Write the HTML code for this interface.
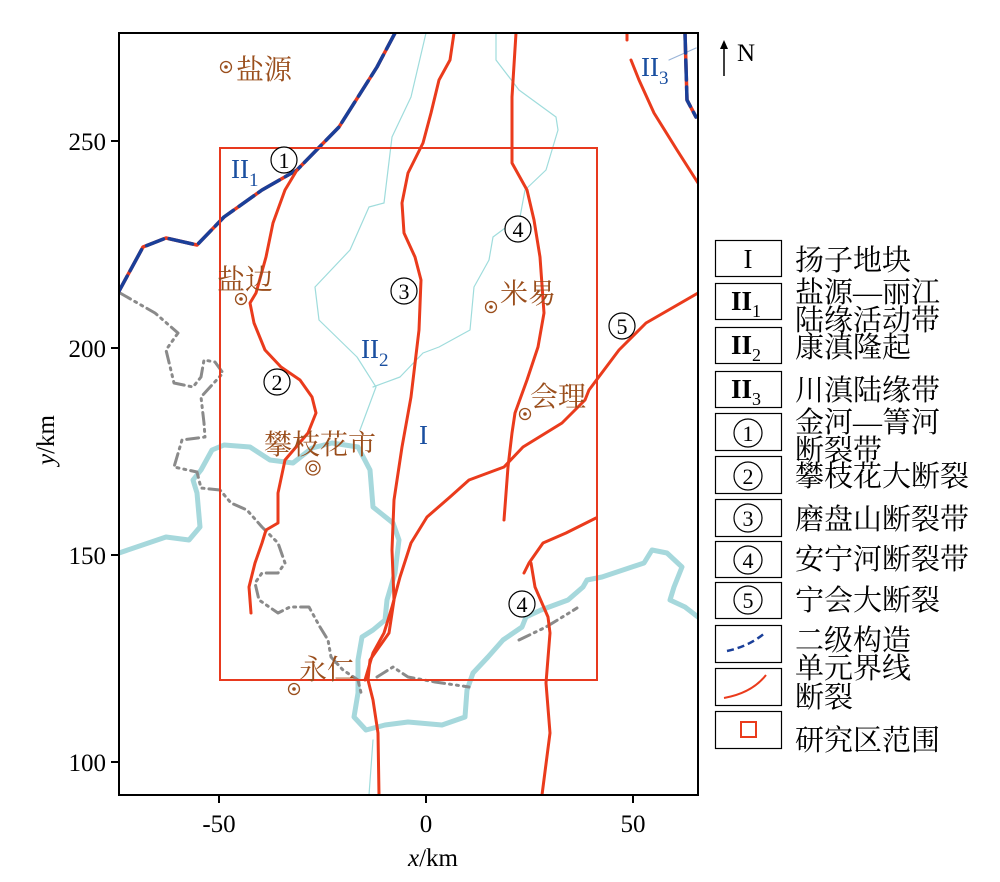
<!DOCTYPE html>
<html><head><meta charset="utf-8"><style>
body{margin:0;background:#fff}
svg{display:block}
text{font-family:"Liberation Serif","Noto Serif CJK SC",serif}
</style></head><body>
<svg width="1000" height="882" viewBox="0 0 1000 882" xmlns="http://www.w3.org/2000/svg">
<defs><clipPath id="c"><rect x="119" y="33" width="579" height="762"/></clipPath></defs>
<g clip-path="url(#c)" fill="none" stroke-linejoin="round" stroke-linecap="round">
<g stroke="#9fdcdc" stroke-width="1.2">
<polyline points="426,33 411,97 392,137 384,203 369,207 350,250 315,287 319,320 357,357 376,387 360,430"/>
<polyline points="496,33 496,60 519,90 556,117 558,130 546,170 525,190 520,217 493,237 489,260 474,287 470,330 439,347 423,353 400,377 373,387"/>
<polyline points="373,740 369,795"/>
<polyline points="669,60 696,48" stroke="#9ab4d8"/>
</g>
<polyline stroke="#a6d8dc" stroke-width="5" points="119,553 166,537 189,540 200,527 197,493 193,480 201,470 212,450 224,445 250,447 270,460 293,463 312,448 332,443 358,447 370,470 373,507 393,523 399,540 395,573 387,600 385,620 373,630 362,637 358,660 358,693 354,717 366,730 385,725 408,722 442,725 465,717 467,690 473,673 488,657 503,640 522,627 526,617 541,610 568,600 583,587 587,580 602,577 644,563 652,550 667,553 682,567 674,587 670,600 685,607 698,617"/>
<g stroke="#8a8a8a" stroke-width="3" stroke-dasharray="12,5,2,5,2,5">
<polyline points="120,293 155,313 178,333 166,350 174,383 193,387 201,377 204,360 215,362 223,373 201,397 204,423 205,437 182,440 174,467 197,472 201,488 220,490 231,503 247,510 262,527 278,543 285,563 278,573 262,573 255,583 259,600 278,613 290,607 309,607 320,627 328,640 331,657 343,670 358,680 362,697"/>
<polyline points="377,677 393,667 408,677 435,682 469,687"/>
<polyline points="519,640 546,627 569,613 577,608"/>
</g>
<g stroke-width="3.5">
<polyline stroke="#e8391e" points="395,33 377,67 339,127 297,170 262,190 224,217 197,245 166,238 143,247 118,293"/>
<polyline stroke="#1a3f99" stroke-dasharray="18,7,24,6" points="395,33 377,67 339,127 297,170 262,190 224,217 197,245 166,238 143,247 118,293"/>
<polyline stroke="#e8391e" points="685,33 687,100 696,117"/>
<polyline stroke="#1a3f99" stroke-dasharray="20,7" points="685,33 687,100 696,117"/>
</g>
<g stroke="#ea3b1c" stroke-width="3">
<polyline points="297,170 285,190 273,223 266,257 256,293 250,303 254,323 265,350 281,367 300,380 312,397 316,413 308,433 285,460 278,493 278,523 266,530 262,543 255,563 249,587 251,613"/>
<polyline points="454,33 450,60 439,80 431,113 423,143 408,173 402,203 404,233 415,257 421,280 419,330 411,397 402,447 394,500 392,550 394,600 389,633 370,660 368,680 373,700 378,733 379,795"/>
<polyline points="698,293 646,323 619,350 589,390 585,400 562,423 523,447 504,467 469,480 450,497 427,517 411,543 400,577 392,607 384,633 373,653 365,680"/>
<polyline points="516,33 512,97 512,163 527,190 534,220 540,257 544,313 538,347 527,380 515,413 512,433 508,467 504,520"/>
<polyline points="596,518 566,533 543,543 529,563 524,573"/>
<polyline points="531,563 535,587 548,617 550,633 546,683 550,733 542,795"/>
<polyline points="631,60 639,80 654,113 677,150 698,183"/>
<polyline points="627,33 627,40"/>
</g>
</g>
<rect x="220" y="148" width="377" height="532" fill="none" stroke="#e8391e" stroke-width="2"/>
<rect x="119" y="33" width="579" height="762" fill="none" stroke="#000" stroke-width="2"/>
<g stroke="#000" stroke-width="2">
<line x1="111" y1="141" x2="119" y2="141"/><line x1="111" y1="348" x2="119" y2="348"/><line x1="111" y1="555" x2="119" y2="555"/><line x1="111" y1="762" x2="119" y2="762"/>
<line x1="219" y1="795" x2="219" y2="803"/><line x1="426" y1="795" x2="426" y2="803"/><line x1="633" y1="795" x2="633" y2="803"/>
</g>
<g font-size="25" fill="#000">
<text x="106" y="150" text-anchor="end">250</text>
<text x="106" y="357" text-anchor="end">200</text>
<text x="106" y="564" text-anchor="end">150</text>
<text x="106" y="771" text-anchor="end">100</text>
<text x="219" y="832" text-anchor="middle">-50</text>
<text x="426" y="832" text-anchor="middle">0</text>
<text x="633" y="832" text-anchor="middle">50</text>
<text x="433" y="866" text-anchor="middle"><tspan font-style="italic">x</tspan>/km</text>
<text transform="translate(54,440) rotate(-90)" text-anchor="middle"><tspan font-style="italic">y</tspan>/km</text>
<text x="737" y="61">N</text>
</g>
<line x1="724" y1="76" x2="724" y2="44" stroke="#000" stroke-width="1.5"/>
<polygon points="724,40 720,49 728,49" fill="#000"/>
<g fill="#9a4e1c" font-size="28">
<text x="236" y="79">盐源</text>
<text x="217" y="289">盐边</text>
<text x="500" y="303">米易</text>
<text x="530" y="406">会理</text>
<text x="264" y="454">攀枝花市</text>
<text x="299" y="679">永仁</text>
</g>
<g fill="none" stroke="#9a4e1c" stroke-width="1.3">
<circle cx="226" cy="67" r="5.5"/><circle cx="241" cy="299" r="5.5"/><circle cx="491" cy="307" r="5.5"/><circle cx="525" cy="414" r="5.5"/><circle cx="294" cy="689" r="5.5"/>
<circle cx="313" cy="468" r="7"/><circle cx="313" cy="468" r="3.5"/>
</g>
<g fill="#9a4e1c"><circle cx="226" cy="67" r="1.8"/><circle cx="241" cy="299" r="1.8"/><circle cx="491" cy="307" r="1.8"/><circle cx="525" cy="414" r="1.8"/><circle cx="294" cy="689" r="1.8"/></g>
<g fill="#fff" stroke="#000" stroke-width="1.2">
<circle cx="284" cy="160" r="13"/><circle cx="277" cy="382" r="13"/><circle cx="404" cy="291" r="13"/><circle cx="518" cy="229" r="13"/><circle cx="522" cy="604" r="13"/><circle cx="622" cy="326" r="13"/>
</g>
<g font-size="22" text-anchor="middle" fill="#000">
<text x="284" y="168">1</text><text x="277" y="390">2</text><text x="404" y="299">3</text><text x="518" y="237">4</text><text x="522" y="612">4</text><text x="622" y="334">5</text>
</g>
<g fill="#1a4fa0" font-size="27">
<text x="231" y="178">II<tspan font-size="19" dy="8">1</tspan></text>
<text x="361" y="358">II<tspan font-size="19" dy="8">2</tspan></text>
<text x="419" y="444">I</text>
<text x="641" y="76">II<tspan font-size="19" dy="8">3</tspan></text>
</g>
<g fill="none" stroke="#000" stroke-width="1.2">
<rect x="715.5" y="240.5" width="66" height="36"/>
<rect x="715.5" y="283.5" width="66" height="36"/>
<rect x="715.5" y="327.5" width="66" height="36"/>
<rect x="715.5" y="371.5" width="66" height="36"/>
<rect x="715.5" y="413.5" width="66" height="37"/>
<rect x="715.5" y="456.5" width="66" height="37"/>
<rect x="715.5" y="499.5" width="66" height="37"/>
<rect x="715.5" y="541.5" width="66" height="36"/>
<rect x="715.5" y="582.5" width="66" height="36"/>
<rect x="715.5" y="625.5" width="66" height="37"/>
<rect x="715.5" y="668.5" width="66" height="37"/>
<rect x="715.5" y="711.5" width="66" height="37"/>
<circle cx="748" cy="433" r="14"/><circle cx="748" cy="476" r="14"/><circle cx="748" cy="518" r="14"/><circle cx="748" cy="560" r="14"/><circle cx="748" cy="600" r="14"/>
</g>
<g font-size="27" fill="#000" text-anchor="middle">
<text x="748" y="268">I</text>
<text x="746" y="310" font-weight="bold">II<tspan font-size="18" dy="7" font-weight="normal">1</tspan></text>
<text x="746" y="354" font-weight="bold">II<tspan font-size="18" dy="7" font-weight="normal">2</tspan></text>
<text x="746" y="398" font-weight="bold">II<tspan font-size="18" dy="7" font-weight="normal">3</tspan></text>
<g font-size="22"><text x="748" y="441">1</text><text x="748" y="484">2</text><text x="748" y="526">3</text><text x="748" y="568">4</text><text x="748" y="608">5</text></g>
</g>
<path d="M727,651 Q750,646 766,632" fill="none" stroke="#1a3f99" stroke-width="2.5" stroke-dasharray="7,4"/>
<path d="M724,698 Q752,693 766,675" fill="none" stroke="#ea3b1c" stroke-width="2"/>
<rect x="741" y="722" width="15" height="15" fill="none" stroke="#ea3b1c" stroke-width="2"/>
<g font-size="29" fill="#000">
<text x="795" y="270">扬子地块</text>
<text x="795" y="302">盐源—丽江</text>
<text x="795" y="330">陆缘活动带</text>
<text x="795" y="357">康滇隆起</text>
<text x="795" y="400">川滇陆缘带</text>
<text x="795" y="432">金河—箐河</text>
<text x="795" y="460">断裂带</text>
<text x="795" y="486">攀枝花大断裂</text>
<text x="795" y="529">磨盘山断裂带</text>
<text x="795" y="569">安宁河断裂带</text>
<text x="795" y="610">宁会大断裂</text>
<text x="795" y="650">二级构造</text>
<text x="795" y="678">单元界线</text>
<text x="795" y="707">断裂</text>
<text x="795" y="750">研究区范围</text>
</g>
</svg>
</body></html>
